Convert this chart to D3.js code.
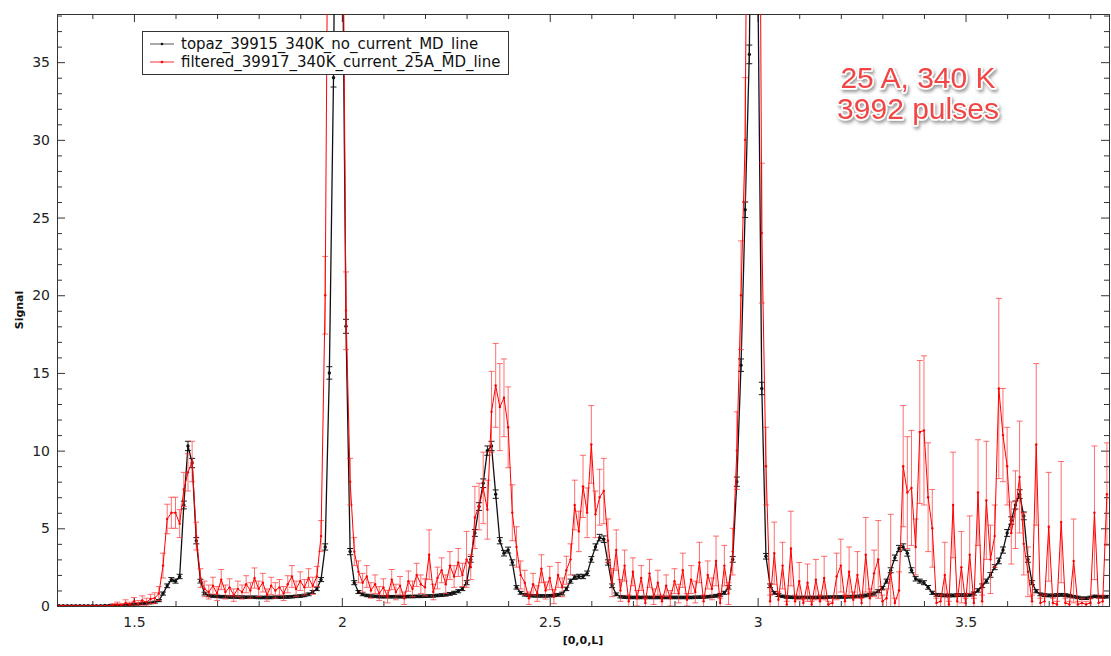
<!DOCTYPE html>
<html>
<head>
<meta charset="utf-8">
<script src="https://d3js.org/d3.v7.min.js"></script>
<style>
  body { margin: 0; background: #fff; }
  svg { display: block; font-family: "DejaVu Sans", sans-serif; }
</style>
</head>
<body>
<svg id="chart" width="1111" height="656"></svg>
<script>
// bin centres along [0,0,L]: 1.32 .. 3.84, step 0.01
const binStart = 1.32, binStep = 0.01, binCount = 253;
const L = d3.range(binCount).map(i => +(binStart + i * binStep).toFixed(2));

// topaz_39915_340K_no_current_MD_line (black)
const blackSignal = [
  0.02,0.02,0.02,0.02,0.02,0.02,0.02,0.02,0.02,0.02,            // 1.32
  0.02,0.03,0.03,0.04,0.05,0.05,0.06,0.08,0.1,0.12,             // 1.42
  0.15,0.18,0.2,0.25,0.35,0.8,1.3,1.7,1.6,1.9,                  // 1.52
  6.5,10.3,9.2,4.2,1.6,0.8,0.68,0.64,0.62,0.6,                  // 1.62
  0.6,0.58,0.58,0.57,0.57,0.56,0.56,0.56,0.55,0.55,             // 1.72
  0.55,0.55,0.56,0.56,0.57,0.58,0.6,0.62,0.64,0.68,             // 1.82
  0.75,0.9,1.1,1.7,3.8,15,34,65,48,18,                          // 1.92
  3.5,1.5,0.9,0.75,0.68,0.64,0.62,0.6,0.6,0.6,                  // 2.02
  0.6,0.6,0.6,0.6,0.61,0.61,0.62,0.62,0.63,0.64,                // 2.12
  0.65,0.68,0.7,0.73,0.78,0.85,0.95,1.1,1.5,3.0,                // 2.22
  4.7,6.4,7.9,10.0,10.3,7.2,4.2,3.4,3.6,2.8,                    // 2.32
  1.2,0.85,0.72,0.68,0.66,0.65,0.65,0.65,0.66,0.68,             // 2.42
  0.72,0.8,1.1,1.6,1.85,1.9,1.9,2.1,3.0,3.8,                    // 2.52
  4.4,4.3,2.8,1.3,0.75,0.6,0.57,0.55,0.55,0.55,                 // 2.62
  0.55,0.55,0.55,0.55,0.55,0.55,0.55,0.55,0.55,0.55,            // 2.72
  0.55,0.55,0.55,0.56,0.57,0.58,0.6,0.62,0.66,0.72,             // 2.82
  0.85,1.2,3.0,8.0,15.5,25.5,35.5,62,42,14,                     // 2.92
  3.2,1.3,0.85,0.7,0.62,0.58,0.56,0.55,0.55,0.55,               // 3.02
  0.55,0.55,0.55,0.56,0.56,0.57,0.57,0.58,0.58,0.58,            // 3.12
  0.6,0.6,0.62,0.64,0.68,0.72,0.8,0.95,1.15,1.6,                // 3.22
  2.3,3.1,3.7,3.8,3.4,2.3,1.75,1.6,1.5,1.2,                     // 3.32
  0.85,0.72,0.7,0.68,0.68,0.68,0.7,0.7,0.7,0.72,                // 3.42
  0.8,1.0,1.3,1.6,2.0,2.5,2.9,3.6,4.7,5.5,                      // 3.52
  6.5,7.2,5.8,3.0,1.5,0.95,0.75,0.7,0.68,0.68,                  // 3.62
  0.7,0.72,0.7,0.66,0.6,0.55,0.5,0.5,0.55,0.62,                 // 3.72
  0.6,0.58,0.6                                                  // 3.82
];
const blackError = [
  0.02,0.02,0.02,0.02,0.02,0.02,0.02,0.02,0.02,0.02,
  0.02,0.02,0.02,0.03,0.03,0.03,0.03,0.04,0.04,0.04,
  0.05,0.05,0.05,0.06,0.07,0.1,0.12,0.13,0.13,0.14,
  0.25,0.3,0.3,0.2,0.12,0.09,0.08,0.08,0.08,0.08,
  0.08,0.08,0.08,0.08,0.08,0.08,0.08,0.08,0.08,0.08,
  0.08,0.08,0.08,0.08,0.08,0.08,0.08,0.08,0.08,0.08,
  0.09,0.1,0.11,0.13,0.2,0.4,0.6,0.8,0.7,0.45,
  0.2,0.13,0.1,0.09,0.08,0.08,0.08,0.08,0.08,0.08,
  0.08,0.08,0.08,0.08,0.08,0.08,0.08,0.08,0.08,0.08,
  0.08,0.08,0.09,0.09,0.09,0.1,0.1,0.11,0.13,0.18,
  0.22,0.25,0.28,0.3,0.3,0.27,0.2,0.18,0.19,0.17,
  0.11,0.09,0.08,0.08,0.08,0.08,0.08,0.08,0.08,0.08,
  0.09,0.09,0.11,0.13,0.14,0.14,0.14,0.15,0.18,0.2,
  0.21,0.21,0.17,0.12,0.09,0.08,0.08,0.08,0.08,0.08,
  0.08,0.08,0.08,0.08,0.08,0.08,0.08,0.08,0.08,0.08,
  0.08,0.08,0.08,0.08,0.08,0.08,0.08,0.08,0.09,0.09,
  0.1,0.11,0.18,0.3,0.4,0.5,0.6,0.8,0.65,0.4,
  0.18,0.12,0.09,0.09,0.08,0.08,0.08,0.08,0.08,0.08,
  0.08,0.08,0.08,0.08,0.08,0.08,0.08,0.08,0.08,0.08,
  0.08,0.08,0.08,0.08,0.09,0.09,0.1,0.1,0.11,0.13,
  0.16,0.18,0.2,0.2,0.19,0.16,0.14,0.13,0.13,0.12,
  0.1,0.09,0.09,0.09,0.09,0.09,0.09,0.09,0.09,0.09,
  0.1,0.11,0.12,0.13,0.15,0.16,0.18,0.2,0.22,0.24,
  0.26,0.28,0.25,0.18,0.13,0.1,0.09,0.09,0.09,0.09,
  0.09,0.09,0.09,0.09,0.08,0.08,0.08,0.08,0.08,0.08,
  0.08,0.08,0.08
];

// filtered_39917_340K_current_25A_MD_line (red)
const redSignal = [
  0,0,0,0,0,0,0,0,0,0,                                          // 1.32
  0,0,0,0.05,0.1,0.05,0.2,0.1,0.3,0.15,                         // 1.42
  0.35,0.25,0.45,0.5,0.8,2.6,5.6,6.0,6.0,5.3,                   // 1.52
  7.5,8.6,9.3,4.5,1.8,1.1,0.9,1.3,0.8,1.7,                      // 1.62
  0.9,1.2,0.7,1.1,0.9,1.4,1.0,1.8,1.1,1.5,                      // 1.72
  0.7,1.3,1.0,1.2,0.8,1.4,1.9,1.1,1.6,1.2,                      // 1.82
  1.8,1.3,1.9,4.5,20,60,90,90,55,19,                            // 1.92
  8.0,3.5,2.2,1.5,1.9,1.0,1.4,0.8,1.2,0.6,                      // 2.02
  1.7,0.9,1.3,0.5,1.6,1.1,2.0,1.4,1.2,3.3,                      // 2.12
  0.9,1.8,2.3,1.4,2.6,1.9,2.8,2.0,3.0,2.5,                      // 2.22
  5.7,6.4,7.6,6.2,12.5,14.2,12.8,13.4,11.5,6.0,                 // 2.32
  3.8,2.0,1.5,0.5,1.4,0.8,2.4,1.0,1.8,0.6,                      // 2.42
  2.0,1.2,2.3,3.0,6.5,4.8,7.7,6.0,10.4,5.9,                     // 2.52
  7.0,7.4,4.2,1.5,3.6,1.0,2.6,0.3,2.2,0.5,                      // 2.62
  1.8,0.2,2.1,0.6,1.5,0.3,1.3,0.5,1.6,0.8,                      // 2.72
  2.3,0.4,1.7,0.9,2.8,0.3,2.0,1.1,2.9,0.2,                      // 2.82
  2.6,0.8,3.5,10,20,30,70,90,75,24,                             // 2.92
  9.0,0.3,3.4,0.4,2.6,0.1,3.7,0.3,1.6,0.2,                      // 3.02
  1.5,0.1,1.7,0.3,1.8,0.1,0.2,1.9,2.6,0.3,                      // 3.12
  2.2,0.4,2.0,0.2,3.3,0.5,2.1,3.0,0.3,0.5,                      // 3.22
  2.1,0.2,1.0,9.0,7.3,7.6,3.8,11.2,11.3,7.0,                    // 3.32
  5.0,0.2,0.3,2.0,0.1,6.5,0.3,2.5,0.2,3.3,                      // 3.42
  0.2,7.3,0.3,6.8,3.0,4.5,14.0,11.0,9.0,4.7,                    // 3.52
  6.2,8.3,4.0,2.2,0.3,10.4,0.2,0.3,5.1,0.2,                     // 3.62
  0.1,5.4,0.2,0.1,2.9,0.1,0.2,0.1,0.2,6.0,                      // 3.72
  0.2,0.3,7.2                                                   // 3.82
];
const redError = [
  0,0,0,0,0,0,0,0,0,0,
  0,0,0,0.1,0.15,0.1,0.2,0.15,0.25,0.2,
  0.3,0.25,0.3,0.35,0.45,0.8,0.95,1.0,1.0,0.9,
  1.1,1.2,1.3,0.9,0.6,0.5,0.45,0.55,0.45,0.65,
  0.45,0.55,0.4,0.5,0.45,0.55,0.5,0.65,0.5,0.6,
  0.4,0.55,0.5,0.5,0.45,0.55,0.7,0.5,0.6,0.5,
  0.6,0.55,0.65,1.0,2.5,4,5,5,4,2.5,
  1.5,0.9,0.7,0.6,0.7,0.5,0.6,0.45,0.55,0.4,
  0.65,0.5,0.6,0.4,0.65,0.5,0.75,0.6,0.55,1.6,
  0.5,0.7,0.8,0.6,0.9,0.7,0.9,0.75,1.8,0.8,
  2.0,1.5,2.3,1.9,2.6,2.7,2.8,2.5,2.6,1.8,
  1.3,0.9,0.8,0.4,0.7,0.5,0.9,0.55,0.75,0.45,
  0.8,0.6,0.9,1.0,1.6,1.3,2.0,1.6,2.5,1.5,
  1.8,2.1,1.4,0.9,1.3,0.7,1.0,0.4,0.9,0.5,
  0.8,0.3,0.9,0.5,0.8,0.4,0.7,0.5,0.8,0.6,
  1.1,0.4,0.9,0.7,1.3,0.4,0.9,0.7,1.6,0.3,
  1.3,0.7,1.5,2.5,3.5,4.0,5,5,5,4.5,
  2.5,0.4,2.0,0.5,1.5,0.2,2.4,0.4,1.2,0.3,
  1.2,0.2,1.3,0.4,1.4,0.2,0.3,1.5,1.7,0.4,
  1.6,0.5,1.5,0.3,2.4,0.6,1.5,2.5,0.4,0.6,
  3.8,0.3,1.2,3.9,3.6,3.7,1.8,4.6,4.8,3.5,
  2.5,0.3,0.4,2.1,0.2,3.4,0.4,2.3,0.3,2.5,
  0.3,3.4,0.4,3.8,2.2,2.0,5.8,3.0,2.5,2.0,
  2.5,3.6,2.0,1.6,0.4,5.2,0.3,0.4,3.5,0.3,
  0.2,3.9,0.3,0.2,2.7,0.2,0.3,0.2,0.3,4.3,
  0.3,0.4,3.3
];

const seriesNames = ["topaz_39915_340K_no_current_MD_line", "filtered_39917_340K_current_25A_MD_line"];
const xTickLabels = [1.5, 2, 2.5, 3, 3.5];
const yTickLabels = [0, 5, 10, 15, 20, 25, 30, 35];
const noteLines = ["25 A, 340 K", "3992 pulses"];

const svg = d3.select("#chart");
const plotLeft = 57, plotRight = 1109, plotTop = 14, plotBottom = 606;

const x = d3.scaleLinear().domain([1.315, 3.845]).range([plotLeft, plotRight]);
const y = d3.scaleLinear().domain([0, 38.1]).range([plotBottom, plotTop]);

const defs = svg.append("defs");
defs.append("clipPath").attr("id", "plotclip")
  .append("rect").attr("x", plotLeft).attr("y", plotTop)
  .attr("width", plotRight - plotLeft).attr("height", plotBottom - plotTop);
const shadow = defs.append("filter").attr("id", "shadow")
  .attr("x", "-20%").attr("y", "-20%").attr("width", "140%").attr("height", "160%");
shadow.append("feDropShadow").attr("dx", 1.5).attr("dy", 2.5).attr("stdDeviation", 1.6)
  .attr("flood-color", "#777").attr("flood-opacity", 0.7);

// minor + major ticks, all pointing inward
const xMinor = d3.range(14, 39).map(d => d / 10).filter(d => !xTickLabels.some(t => Math.abs(t - d) < 1e-9));
const yMinor = d3.range(1, 39).filter(d => d % 5 !== 0);

function styleAxis(g) {
  g.selectAll("path").attr("stroke", "#333");
  g.selectAll("line").attr("stroke", "#333");
  g.selectAll("text").attr("fill", "#222").style("font-size", "14px").style("font-family", "DejaVu Sans, sans-serif");
}

svg.append("g").attr("transform", `translate(0,${plotBottom})`)
  .call(d3.axisBottom(x).tickValues(xMinor).tickSizeInner(-5).tickSizeOuter(0).tickFormat(""))
  .call(styleAxis);
svg.append("g").attr("transform", `translate(0,${plotBottom})`)
  .call(d3.axisBottom(x).tickValues(xTickLabels).tickSizeInner(-8).tickSizeOuter(0).tickPadding(11).tickFormat(d3.format("")))
  .call(styleAxis);
svg.append("g").attr("transform", `translate(0,${plotTop})`)
  .call(d3.axisTop(x).tickValues(xMinor).tickSizeInner(-5).tickSizeOuter(0).tickFormat(""))
  .call(styleAxis);
svg.append("g").attr("transform", `translate(0,${plotTop})`)
  .call(d3.axisTop(x).tickValues(xTickLabels).tickSizeInner(-8).tickSizeOuter(0).tickFormat(""))
  .call(styleAxis);

svg.append("g").attr("transform", `translate(${plotLeft},0)`)
  .call(d3.axisLeft(y).tickValues(yMinor).tickSizeInner(-5).tickSizeOuter(0).tickFormat(""))
  .call(styleAxis);
svg.append("g").attr("transform", `translate(${plotLeft},0)`)
  .call(d3.axisLeft(y).tickValues(yTickLabels).tickSizeInner(-8).tickSizeOuter(0).tickPadding(7).tickFormat(d3.format("d")))
  .call(styleAxis);
svg.append("g").attr("transform", `translate(${plotRight},0)`)
  .call(d3.axisRight(y).tickValues(yMinor).tickSizeInner(-5).tickSizeOuter(0).tickFormat(""))
  .call(styleAxis);
svg.append("g").attr("transform", `translate(${plotRight},0)`)
  .call(d3.axisRight(y).tickValues(yTickLabels).tickSizeInner(-8).tickSizeOuter(0).tickFormat(""))
  .call(styleAxis);

// axis titles
svg.append("text").attr("x", (plotLeft + plotRight) / 2).attr("y", 644).attr("text-anchor", "middle")
  .style("font-size", "11px").style("font-weight", "bold").attr("fill", "#111").text("[0,0,L]");
svg.append("text").attr("transform", `translate(23,${(plotTop + plotBottom) / 2}) rotate(-90)`).attr("text-anchor", "middle")
  .style("font-size", "11px").style("font-weight", "bold").attr("fill", "#111").text("Signal");

// data
const plot = svg.append("g").attr("clip-path", "url(#plotclip)");

function drawSeries(values, errors, lineColor, errColor, capHalf, dotR, lineW) {
  const pts = L.map((l, i) => ({ l, v: values[i], e: errors[i] }));
  const g = plot.append("g");
  const eb = g.append("g").attr("stroke", errColor).attr("stroke-width", 1);
  pts.filter(d => d.e > 0).forEach(d => {
    const cx = x(d.l), y1 = y(d.v - d.e), y2 = y(d.v + d.e);
    eb.append("line").attr("x1", cx).attr("x2", cx).attr("y1", y1).attr("y2", y2);
    eb.append("line").attr("x1", cx - capHalf).attr("x2", cx + capHalf).attr("y1", y1).attr("y2", y1);
    eb.append("line").attr("x1", cx - capHalf).attr("x2", cx + capHalf).attr("y1", y2).attr("y2", y2);
  });
  g.append("path").datum(pts)
    .attr("fill", "none").attr("stroke", lineColor).attr("stroke-width", lineW)
    .attr("d", d3.line().x(d => x(d.l)).y(d => y(d.v)));
  g.append("g").selectAll("circle").data(pts).join("circle")
    .attr("cx", d => x(d.l)).attr("cy", d => y(d.v)).attr("r", dotR).attr("fill", lineColor);
}

drawSeries(blackSignal, blackError, "#111", "#1a1a1a", 3, 1.7, 1.3);
drawSeries(redSignal, redError, "#ff0000", "rgba(255,50,50,0.7)", 3, 1.2, 1);

// legend
const lg = svg.append("g");
lg.append("rect").attr("x", 142.5).attr("y", 31.5).attr("width", 366).attr("height", 43)
  .attr("fill", "#fff").attr("stroke", "#333").attr("stroke-width", 1);
const legendColors = ["#111", "#ff0000"];
seriesNames.forEach((name, i) => {
  const cy = 44 + i * 18;
  lg.append("line").attr("x1", 150).attr("x2", 174).attr("y1", cy).attr("y2", cy)
    .attr("stroke", legendColors[i]).attr("stroke-width", 1).attr("opacity", i ? 0.8 : 0.7);
  lg.append("circle").attr("cx", 162).attr("cy", cy).attr("r", 1.3).attr("fill", legendColors[i]);
  lg.append("text").attr("x", 181).attr("y", cy + 5).style("font-size", "15px").attr("fill", "#111").text(name);
});

// annotation
const note = svg.append("g").attr("filter", "url(#shadow)");
noteLines.forEach((t, i) => {
  note.append("text").attr("x", 918).attr("y", 88 + i * 30.5).attr("text-anchor", "middle")
    .style("font-family", "Liberation Sans, Arial, sans-serif").style("font-size", "30px")
    .attr("fill", "#f24545").attr("stroke", "#fff").attr("stroke-width", 3.5)
    .attr("stroke-linejoin", "round").style("paint-order", "stroke").text(t);
});
</script>
</body>
</html>
